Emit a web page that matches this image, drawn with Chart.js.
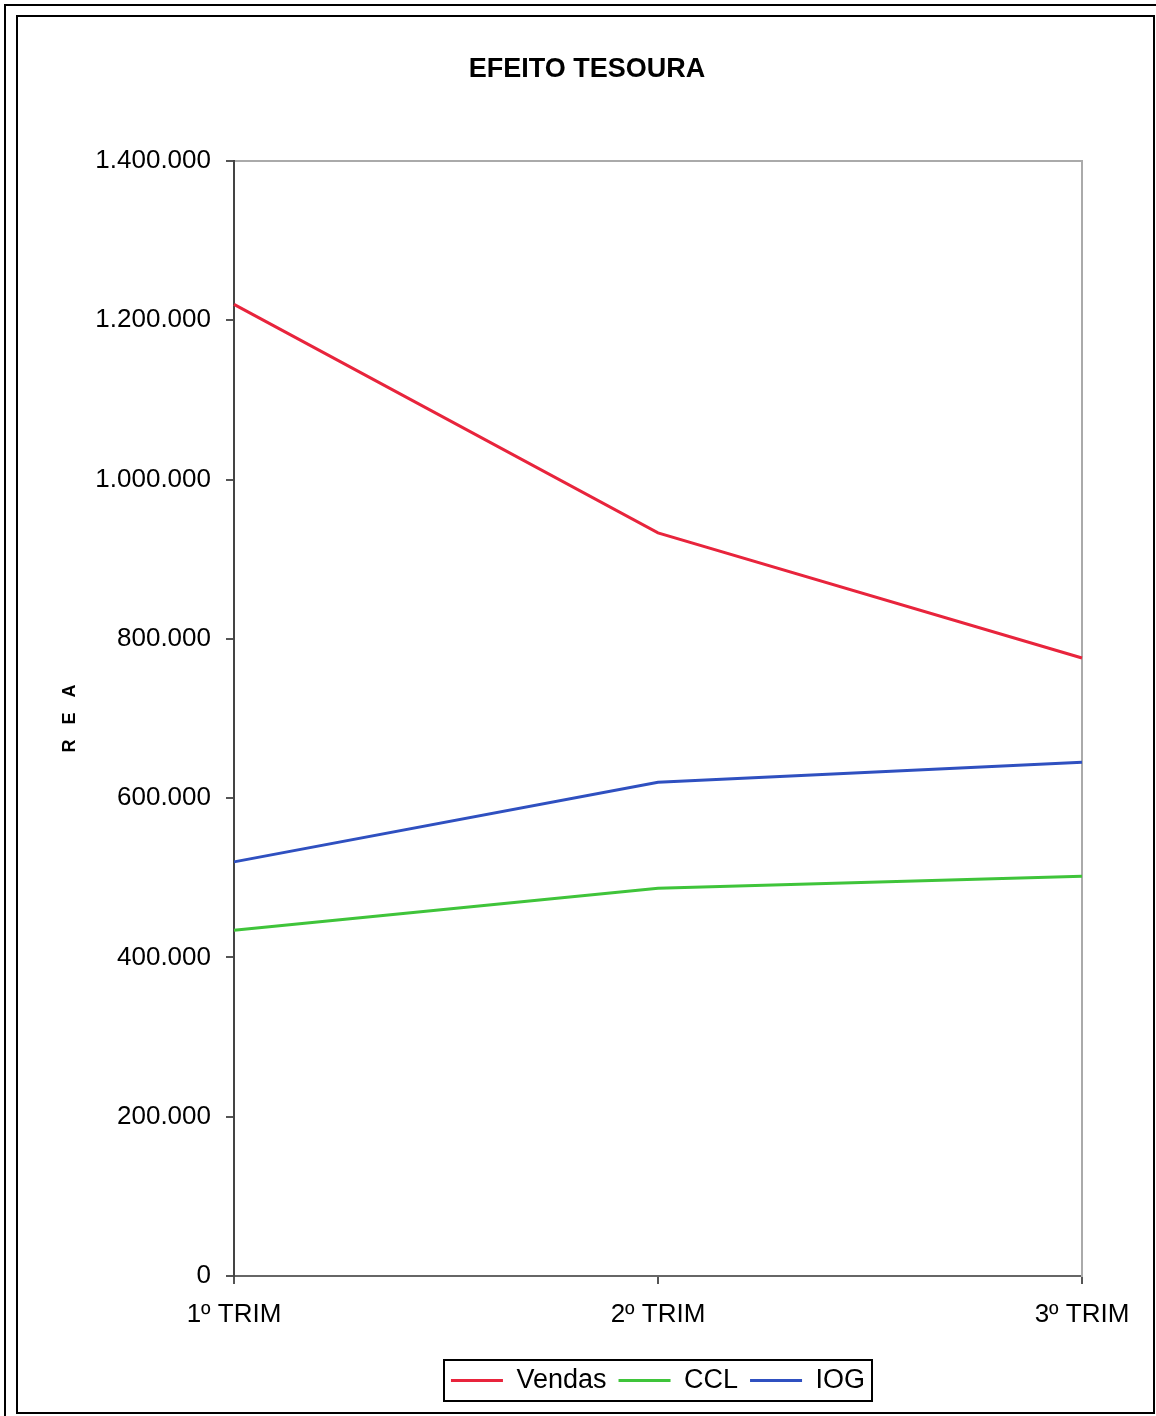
<!DOCTYPE html>
<html>
<head>
<meta charset="utf-8">
<title>EFEITO TESOURA</title>
<script src="https://cdn.jsdelivr.net/npm/chart.js@4.4.1/dist/chart.umd.min.js"></script>
<style>
  html, body { margin: 0; padding: 0; background: #fff; }
  body { width: 1156px; height: 1416px; position: relative; overflow: hidden; }
  .frame { position: absolute; border: 2px solid #000; box-sizing: border-box; }
  #outer { left: 4px; top: 4px; width: 1200px; height: 1440px; }
  #inner { left: 16px; top: 15px; width: 1139px; height: 1399px; }
  #wrap { position: absolute; left: 0; top: 0; width: 1156px; height: 1416px; }
</style>
</head>
<body>
<div class="frame" id="outer"></div>
<div class="frame" id="inner"></div>
<div id="wrap"><canvas id="chart" width="1156" height="1416"></canvas></div>
<script>
// Quarterly figures (R$)
const categories = ['1º TRIM', '2º TRIM', '3º TRIM'];
const vendas = [1220000, 933000, 776000];
const ccl = [434000, 487000, 502000];
const iog = [520000, 620000, 645000];
const yTickValues = [0, 200000, 400000, 600000, 800000, 1000000, 1200000, 1400000];

const FONT = "'Liberation Sans', Arial, sans-serif";
const INK = '#000';

function fmtThousands(v) {
  return String(v).replace(/\B(?=(\d{3})+(?!\d))/g, '.');
}

// Frame around the legend entries
const legendFrame = {
  id: 'legendFrame',
  afterDraw(chart) {
    const boxes = chart.legend && chart.legend.legendHitBoxes;
    if (!boxes || !boxes.length) return;
    let l = Infinity, r = -Infinity, t = Infinity, b = -Infinity;
    boxes.forEach(h => {
      l = Math.min(l, h.left); r = Math.max(r, h.left + h.width);
      t = Math.min(t, h.top); b = Math.max(b, h.top + h.height);
    });
    const ctx = chart.ctx;
    ctx.save();
    ctx.strokeStyle = '#000';
    ctx.lineWidth = 2;
    ctx.strokeRect(Math.round(l - 7), Math.round(t - 7), Math.round(r - l + 14), Math.round(b - t + 14));
    ctx.restore();
  }
};

const ds = (label, data, color) => ({
  label, data,
  borderColor: color,
  backgroundColor: color,
  borderWidth: 3,
  pointRadius: 0,
  tension: 0,
  fill: false
});

new Chart(document.getElementById('chart'), {
  type: 'line',
  data: {
    labels: categories,
    datasets: [
      ds('Vendas', vendas, '#e8243c'),
      ds('CCL', ccl, '#3fc43a'),
      ds('IOG', iog, '#2f50c0')
    ]
  },
  plugins: [legendFrame],
  options: {
    responsive: false,
    animation: false,
    layout: { padding: { left: 18, right: 0, top: 0, bottom: 12 } },
    plugins: {
      title: {
        display: true,
        text: 'EFEITO TESOURA',
        color: INK,
        font: { family: FONT, size: 27, weight: 'bold', lineHeight: 1.2 },
        padding: { top: 53, bottom: 75.6 }
      },
      legend: {
        display: true,
        position: 'bottom',
        fullSize: false,
        labels: {
          color: INK,
          font: { family: FONT, size: 27 },
          usePointStyle: true,
          pointStyle: 'line',
          pointStyleWidth: 52,
          boxHeight: 27,
          padding: 12
        }
      },
      tooltip: { enabled: false }
    },
    scales: {
      x: {
        type: 'category',
        position: 'bottom',
        offset: false,
        grid: { display: true, drawOnChartArea: false, drawTicks: true, tickLength: 8, color: '#555', lineWidth: 2 },
        border: { display: true, color: '#666', width: 2 },
        ticks: { color: INK, font: { family: FONT, size: 26 }, padding: 15, maxRotation: 0, autoSkip: false },
        afterFit(scale) { scale.height = 79; }
      },
      x2: {
        type: 'category',
        position: 'top',
        labels: categories,
        offset: false,
        grid: { display: false },
        ticks: { display: false },
        border: { display: true, color: '#aaa', width: 2, dash: [3, 2] },
        afterFit(scale) { scale.height = 0; }
      },
      y: {
        type: 'linear',
        position: 'left',
        min: 0,
        max: 1400000,
        afterBuildTicks(scale) { scale.ticks = yTickValues.map(v => ({ value: v })); },
        grid: { display: true, drawOnChartArea: false, drawTicks: true, tickLength: 8, color: '#555', lineWidth: 2 },
        border: { display: true, color: '#444', width: 2, dash: [3, 1] },
        ticks: {
          color: INK,
          font: { family: FONT, size: 26 },
          padding: 15,
          callback: v => fmtThousands(v)
        },
        title: {
          display: true,
          text: 'R   E   A',
          color: INK,
          font: { family: FONT, size: 18, weight: 'bold', lineHeight: 1.2 },
          padding: { top: 41, bottom: 0 }
        },
        afterFit(scale) { scale.width = 216; }
      },
      y2: {
        type: 'linear',
        position: 'right',
        min: 0,
        max: 1400000,
        grid: { display: false },
        ticks: { display: false },
        border: { display: true, color: '#aaa', width: 2, dash: [3, 2] },
        afterFit(scale) { scale.width = 74; }
      }
    }
  }
});
</script>
</body>
</html>
